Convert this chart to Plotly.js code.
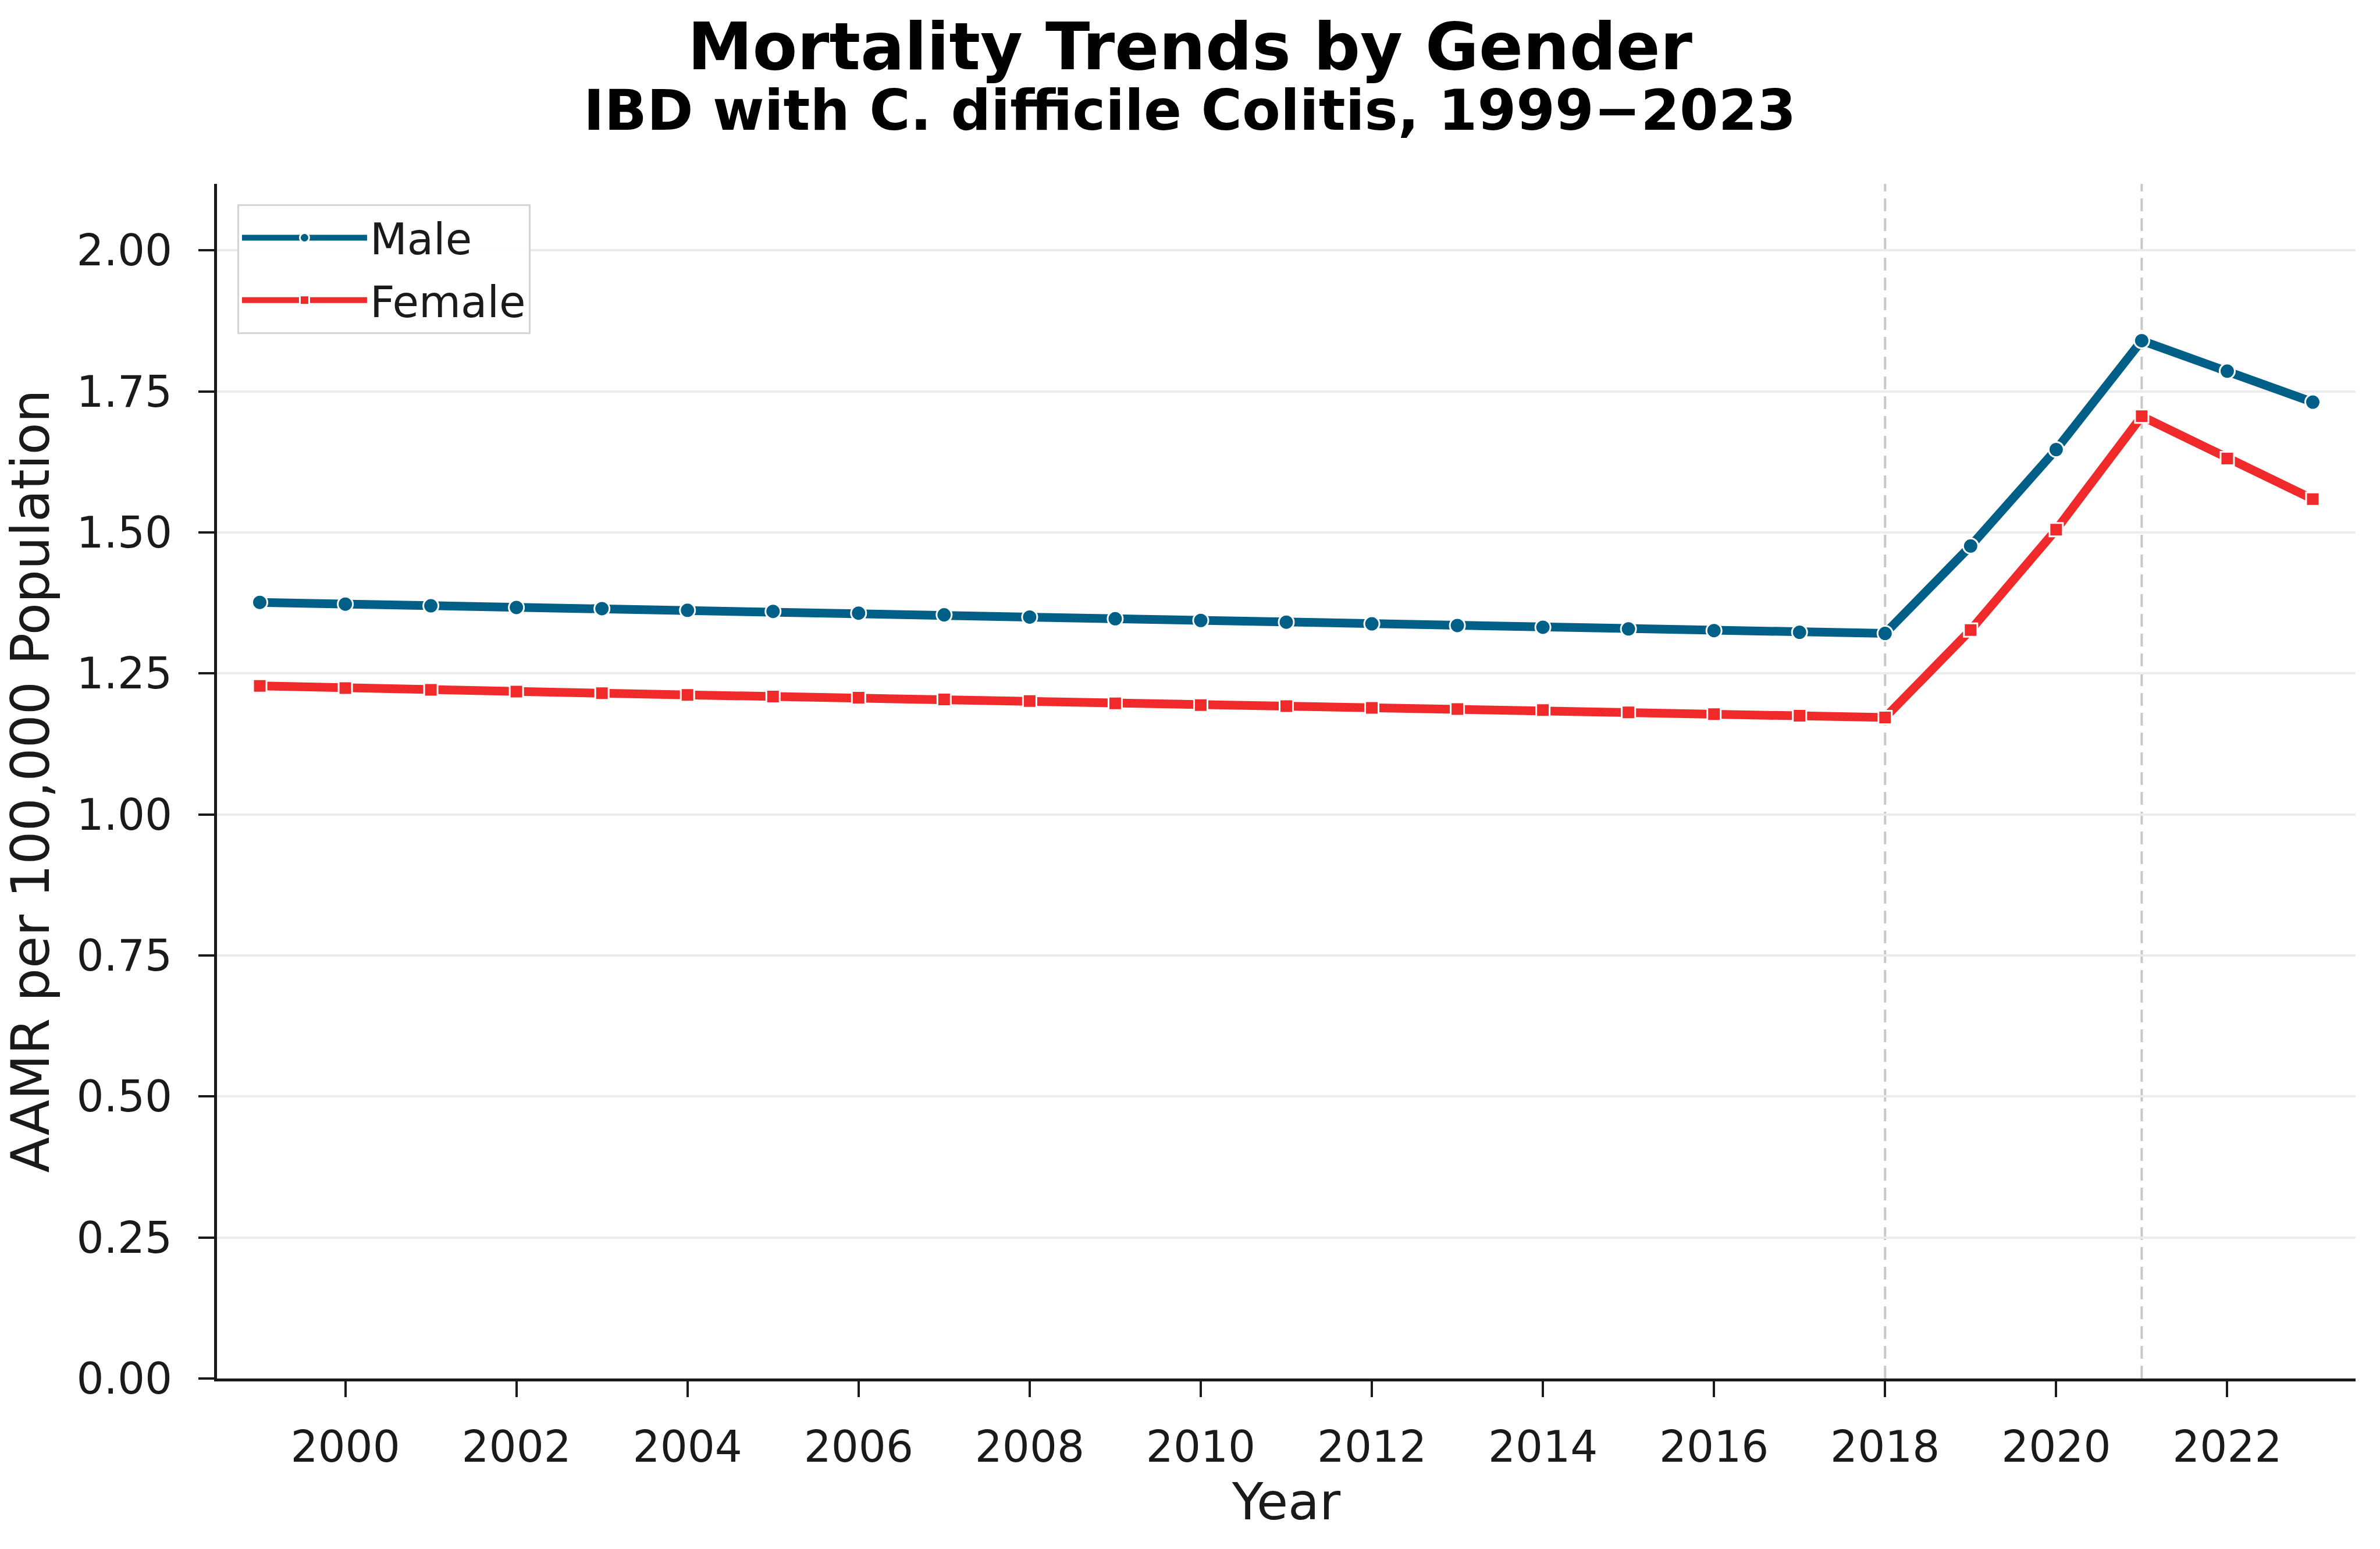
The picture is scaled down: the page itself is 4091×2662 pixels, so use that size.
<!DOCTYPE html>
<html>
<head>
<meta charset="utf-8">
<script src="https://cdn.plot.ly/plotly-3.0.1.min.js"></script>
<style>
    html, body { margin: 0; padding: 0; background: #ffffff; }
    #chart { width: 4091px; height: 2662px; }
</style>
</head>
<body>
<div id="chart"></div>
<script>
// Age-adjusted mortality rates per 100,000
const years = [1999, 2000, 2001, 2002, 2003, 2004, 2005, 2006, 2007, 2008, 2009, 2010,
               2011, 2012, 2013, 2014, 2015, 2016, 2017, 2018, 2019, 2020, 2021, 2022, 2023];
const maleAAMR = [1.376, 1.373, 1.370, 1.367, 1.365, 1.362, 1.360, 1.357, 1.354, 1.350, 1.347, 1.344,
                  1.341, 1.338, 1.335, 1.332, 1.329, 1.326, 1.323, 1.321, 1.476, 1.647, 1.840, 1.786, 1.731];
const femaleAAMR = [1.228, 1.224, 1.221, 1.218, 1.215, 1.212, 1.209, 1.207, 1.204, 1.201, 1.197, 1.194,
                    1.192, 1.189, 1.187, 1.185, 1.181, 1.178, 1.175, 1.172, 1.327, 1.505, 1.706, 1.631, 1.559];
const markerYears = [2018, 2021];
const xTicks = [2000, 2002, 2004, 2006, 2008, 2010, 2012, 2014, 2016, 2018, 2020, 2022];
const yTicks = [0, 0.25, 0.5, 0.75, 1.0, 1.25, 1.5, 1.75, 2.0];

const FONT = 'DejaVu Sans, sans-serif';
const TEXT = '#1a1a1a';

const colors = {
    male: '#005f87',
    female: '#f02a2a',
    grid: '#ececec',
    vline: '#c8c8c8',
    spine: '#1a1a1a'
};

const traces = [
    {
        x: years,
        y: maleAAMR,
        name: 'Male',
        legendgroup: 'male',
        mode: 'lines+markers',
        line: { color: colors.male, width: 15 },
        marker: { symbol: 'circle', size: 26, color: colors.male, line: { color: '#ffffff', width: 3 } }
    },
    {
        x: years,
        y: femaleAAMR,
        name: 'Female',
        legendgroup: 'female',
        mode: 'lines+markers',
        line: { color: colors.female, width: 15 },
        marker: { symbol: 'square', size: 23, color: colors.female, line: { color: '#ffffff', width: 3 } }
    }
];

// dashed reference lines at the change years
const shapes = markerYears.map(yr => ({
    type: 'line',
    xref: 'x',
    yref: 'paper',
    x0: yr, x1: yr,
    y0: 0, y1: 1,
    layer: 'below',
    line: { color: colors.vline, width: 4, dash: '22px,12px' }
}));

const layout = {
    width: 4091,
    height: 2662,
    paper_bgcolor: '#ffffff',
    plot_bgcolor: '#ffffff',
    font: { family: FONT, color: TEXT, size: 74 },
    title: {
        text: '<b>Mortality Trends by Gender</b>',
        font: { family: FONT, size: 112, color: '#000000' },
        x: 0.5,
        xanchor: 'center',
        xref: 'container',
        yref: 'container',
        y: 1 - 80 / 2662,
        yanchor: 'middle'
    },
    annotations: [{
        // centred on the whole figure, not the plot area
        text: '<b>IBD with C. difficile Colitis, 1999\u22122023</b>',
        xref: 'paper',
        yref: 'paper',
        x: (2045 - 373) / 3676,
        y: 1 + 126 / 2053,
        xanchor: 'center',
        yanchor: 'middle',
        showarrow: false,
        font: { family: FONT, size: 96, color: '#000000' }
    }],
    margin: { l: 373, r: 42, t: 316, b: 293 },
    xaxis: {
        range: [1998.5, 2023.5],
        tickvals: xTicks,
        ticks: 'outside',
        ticklen: 27,
        tickwidth: 4,
        tickcolor: colors.spine,
        ticklabelstandoff: 22,
        tickfont: { family: FONT, size: 74, color: TEXT },
        showgrid: false,
        zeroline: false,
        showline: true,
        linecolor: colors.spine,
        linewidth: 5,
        title: { text: 'Year', font: { family: FONT, size: 88, color: TEXT }, standoff: 8 }
    },
    yaxis: {
        range: [0, 2.118],
        tickvals: yTicks,
        tickformat: '.2f',
        ticks: 'outside',
        ticklen: 27,
        tickwidth: 4,
        tickcolor: colors.spine,
        ticklabelstandoff: 30,
        tickfont: { family: FONT, size: 74, color: TEXT },
        showgrid: true,
        gridcolor: colors.grid,
        gridwidth: 4,
        zeroline: false,
        showline: true,
        linecolor: colors.spine,
        linewidth: 5,
        title: { text: 'AAMR per 100,000 Population', font: { family: FONT, size: 90, color: TEXT }, standoff: 20 }
    },
    showlegend: true,
    legend: {
        x: 0.0095,
        y: 0.983,
        xanchor: 'left',
        yanchor: 'top',
        bgcolor: 'rgba(255,255,255,0.9)',
        bordercolor: '#d4d4d4',
        borderwidth: 3,
        itemwidth: 215,
        tracegroupgap: 8,
        font: { family: FONT, size: 74, color: TEXT }
    },
    shapes: shapes
};

Plotly.newPlot('chart', traces, layout, { displayModeBar: false, staticPlot: true });
</script>
</body>
</html>
